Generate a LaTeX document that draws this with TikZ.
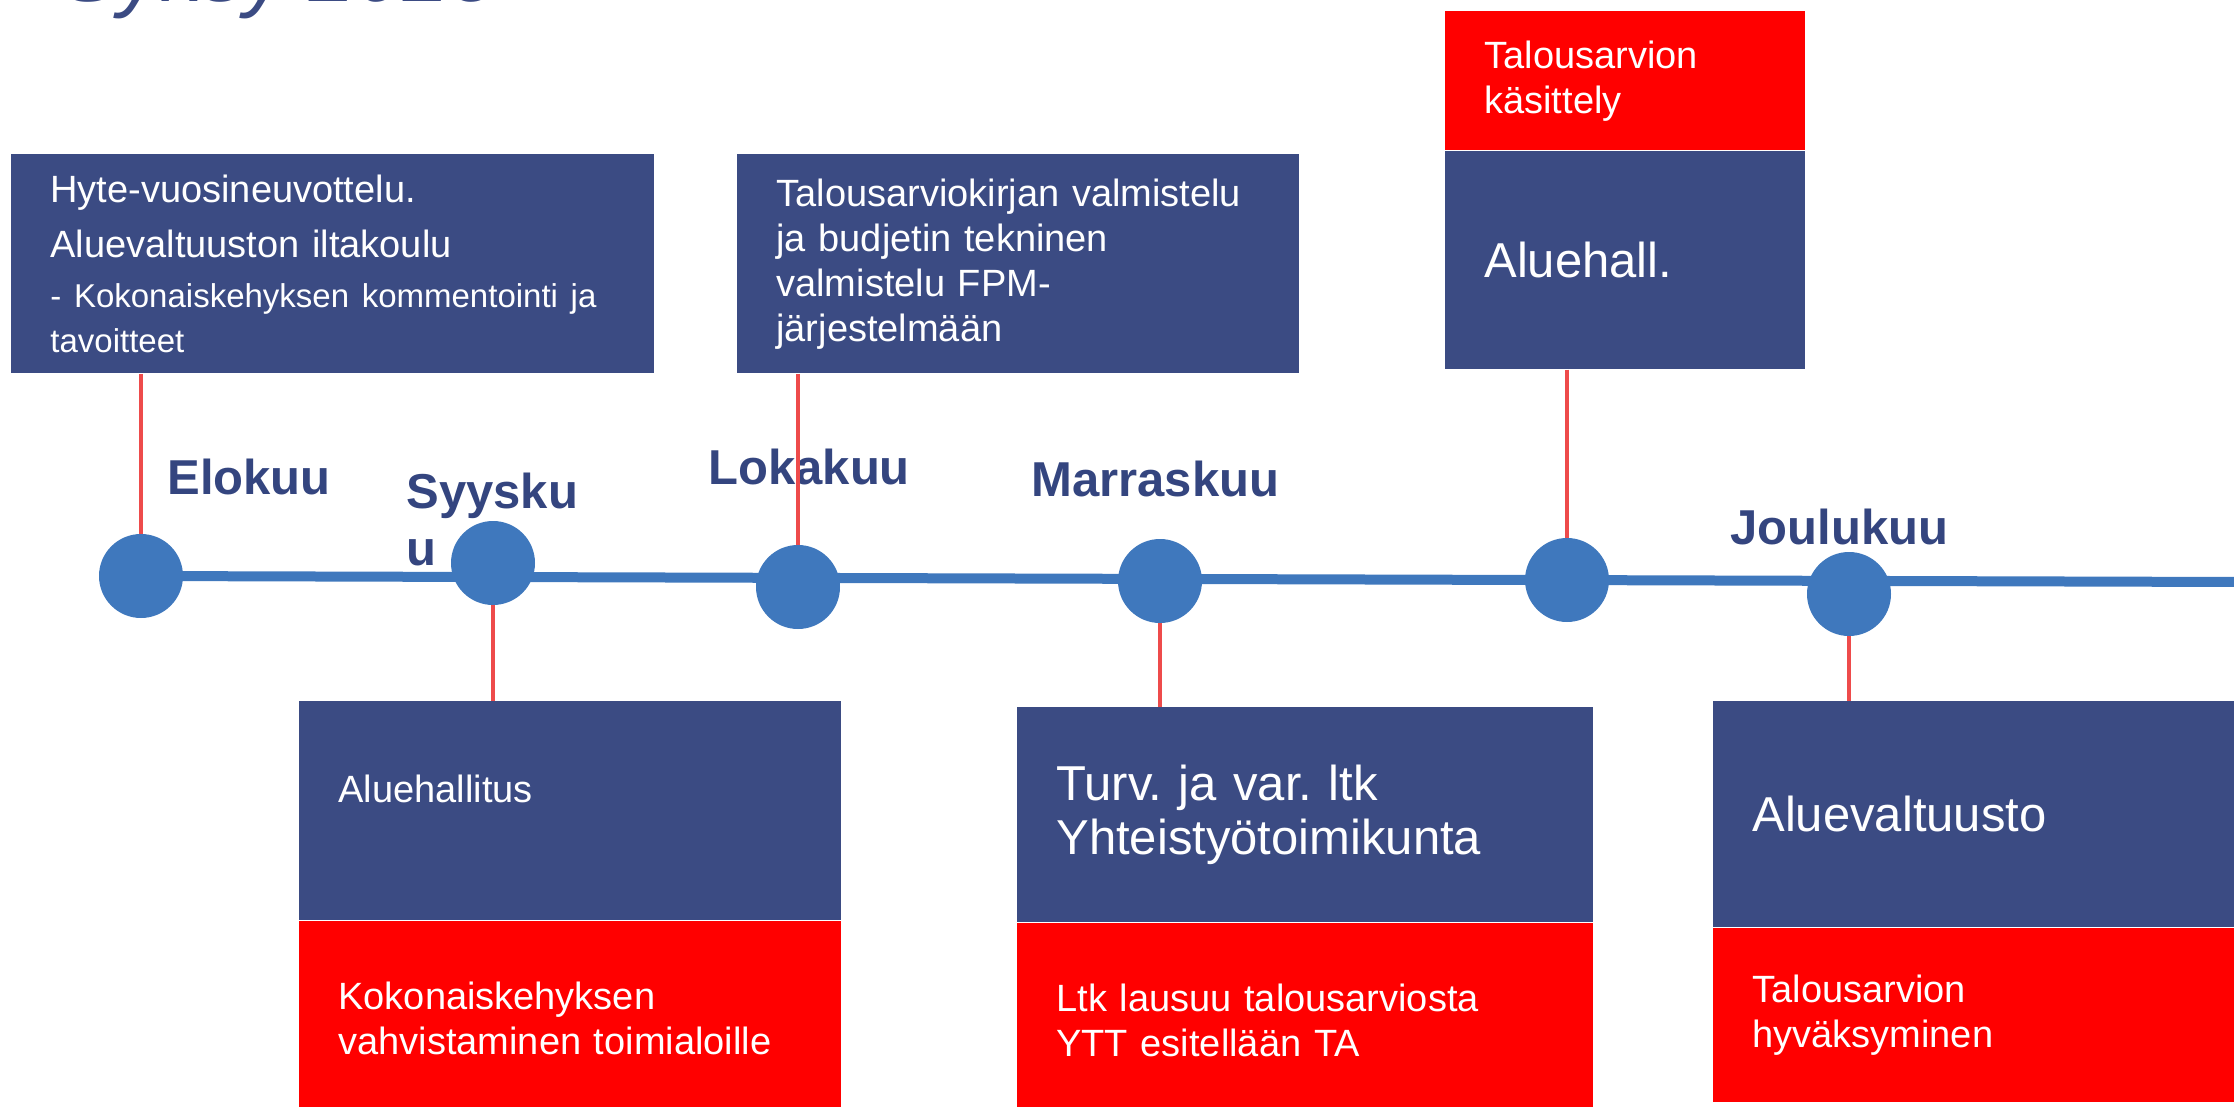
\documentclass[tikz,border=0pt]{standalone}
\usepackage{fontspec}
\setmainfont{Liberation Sans}
\frenchspacing
\usetikzlibrary{positioning,backgrounds}
\definecolor{laatikko}{HTML}{3B4B83}
\definecolor{punainen}{HTML}{FF0000}
\definecolor{kuu}{HTML}{34457F}
\definecolor{jana}{HTML}{3F78BD}
\definecolor{tikku}{HTML}{EE4B4B}
\newcommand{\pienifont}{\fontsize{16.5}{20}\selectfont}
\newcommand{\keskifont}{\fontsize{19}{22.5}\selectfont}
\newcommand{\isofont}{\fontsize{24.5}{27}\selectfont}
\tikzset{main box/.style={rectangle, fill=laatikko, text=white, align=left,
    inner xsep=19.5pt, inner ysep=0pt, font=\keskifont}, }
\tikzset{red box/.style={main box, fill=punainen}, }
\tikzset{month/.style={anchor=west, inner sep=0pt, text=kuu, align=left,
    font=\bfseries\fontsize{24.5}{28.5}\selectfont}, }
\tikzset{dot/.style={circle, fill=jana, inner sep=0pt, minimum size=42pt}, }
\tikzset{linea/.style={draw=tikku, line width=2pt}}
\tikzset{jana line/.style={draw=jana, line width=5pt}}

\begin{document}
\begin{tikzpicture}[x=0.5pt,y=-0.5pt]
  \useasboundingbox (0,0) rectangle (2234,1107);
  % otsikko, vain alareuna nakyy
  \node[anchor=base west, inner sep=0pt, text=laatikko,
    font=\itshape\fontsize{42}{42}\selectfont] (otsikko) at (62,2) {Syksy 2023};
  %
  \node[main box, anchor=north west, text width=282.5pt, minimum height=109.5pt] (hyte) at (11,154)
    {Hyte-vuosineuvottelu.\\[5pt] Aluevaltuuston iltakoulu\\[5pt]
     \pienifont - Kokonaiskehyksen kommentointi ja\\ tavoitteet};
  \node[main box, anchor=north west, text width=242pt, minimum height=109.5pt] (budj) at (737,154)
    {Talousarviokirjan valmistelu\\ ja budjetin tekninen\\ valmistelu FPM-\\ järjestelmään};
  \node[red box, anchor=north west, text width=141pt, minimum height=69.5pt] (kasittely) at (1445,11)
    {Talousarvion\\ käsittely};
  \node[main box, text width=141pt, minimum height=109pt, font=\isofont] (aluehall) [below=0pt of kasittely]
    {Aluehall.};
  %
  \node[main box, anchor=north west, text width=232pt, minimum height=109.5pt] (ahallitus) at (299,701)
    {Aluehallitus\\ \mbox{}};
  \node[red box, text width=232pt, minimum height=97pt] (kehys) [below=0pt of ahallitus]
    {Kokonaiskehyksen\\ vahvistaminen toimialoille};
  \node[main box, anchor=north west, text width=249pt, minimum height=107.5pt, font=\isofont] (ltk) at (1017,707)
    {Turv. ja var. ltk\\ Yhteistyötoimikunta};
  \node[red box, text width=249pt, minimum height=97pt] (lausuu) [below=0pt of ltk]
    {Ltk lausuu talousarviosta\\ YTT esitellään TA};
  \node[main box, anchor=north west, text width=224.5pt, minimum height=113pt, font=\isofont] (avaltuusto) at (1713,701)
    {Aluevaltuusto};
  \node[red box, text width=224.5pt, minimum height=87pt] (hyvaksyminen) [below=0pt of avaltuusto]
    {Talousarvion\\ hyväksyminen};
  %
  \node[dot] (k1) at (141,576) {};
  \node[dot] (k2) at (493,563) {};
  \node[dot] (k3) at (798,587) {};
  \node[dot] (k4) at (1160,581) {};
  \node[dot] (k5) at (1567,580) {};
  \node[dot] (k6) at (1849,594) {};
  \coordinate (loppu) at (2240,582);
  \begin{scope}[on background layer]
    \draw[jana line] (k1.center) -- (loppu);
  \end{scope}
  %
  \node[month] (elo) at (167,477) {Elokuu};
  \node[month] (syys) at (406,519.5) {Syysku\\u};
  \node[month] (loka) at (708,467) {Lokakuu};
  \node[month] (marras) at (1031,479) {Marraskuu};
  \node[month] (joulu) at (1730,527) {Joulukuu};
  %
  \foreach \y/\x in {hyte/k1,budj/k3,aluehall/k5}
    \draw[linea] (\y.south -| \x) -- (\x.north);
  \foreach \x/\y in {k2/ahallitus,k4/ltk,k6/avaltuusto}
    \draw[linea] (\x.south) -- (\x |- \y.north);
\end{tikzpicture}
\end{document}
